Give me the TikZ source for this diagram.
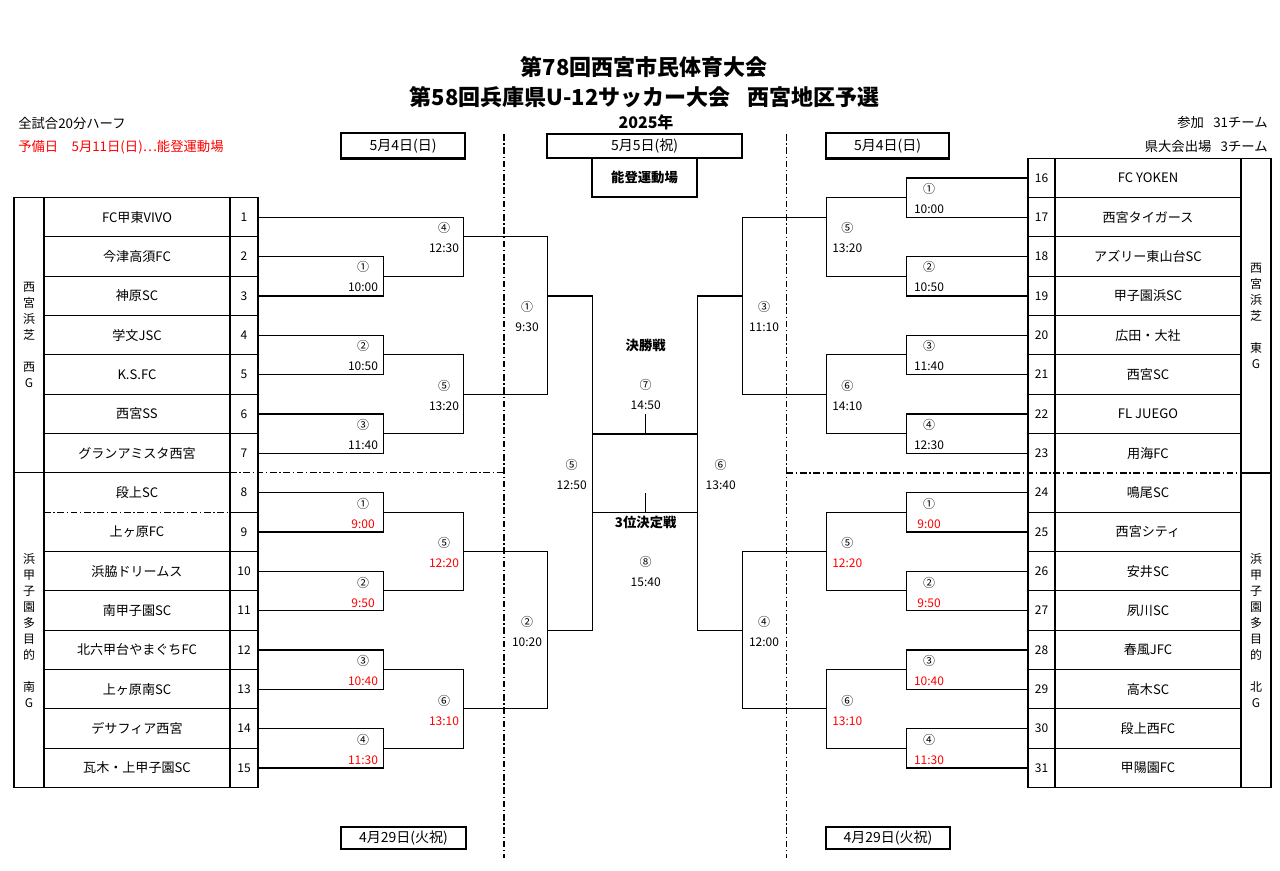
\documentclass[tikz,border=0pt]{standalone}
\usepackage{fontspec}
\setmainfont{Noto Sans CJK JP}
\tikzset{
    cell/.style = {inner sep = 0pt, minimum height = 29.5pt},
    team/.style = {cell, minimum width = 139.5pt, font = \fontsize{9.8}{11}\selectfont},
    seed/.style = {cell, minimum width = 20.5pt, font = \fontsize{9}{10}\selectfont},
    grp/.style = {align = center, inner sep = 0pt, font = \fontsize{9}{12}\selectfont},
    game/.style = {align = center, inner sep = 0pt, font = \fontsize{9}{15}\selectfont},
    note/.style = {inner sep = 0pt, font = \fontsize{10}{11}\selectfont},
    daybox/.style = {draw, line width = 2pt, inner sep = 0pt, font = \fontsize{10.5}{12}\selectfont},
    bracket/.style = {line width = 1pt},
    rule/.style = {line width = 0.9pt},
    divider/.style = {line width = 0.9pt, dash pattern = on 5pt off 2pt on 1pt off 2pt},
}
\begin{document}
\begin{tikzpicture}[x = 0.75pt, y = -0.75pt]
        \fill[white] (0, 0) rectangle (1280, 870);
        \useasboundingbox (0, 0) rectangle (1280, 870);

        % header
        \node[inner sep = 0pt, font = \bfseries\fontsize{16.5}{18}\selectfont] (title1) at (644, 67) {第78回西宮市民体育大会};
        \node[inner sep = 0pt, font = \bfseries\fontsize{16.5}{18}\selectfont] (title2) at (644.5, 97) {第58回兵庫県U-12サッカー大会\hspace{0.75em}西宮地区予選};
        \node[inner sep = 0pt, font = \bfseries\fontsize{12}{14}\selectfont] (year) at (646, 122) {2025年};
        \node[note, anchor = west] (halves) at (18, 123) {全試合20分ハーフ};
        \node[note, anchor = west, text = red] (spare) at (18, 147) {予備日\hspace{1em}5月11日(日)…能登運動場};
        \node[note, anchor = east] (entry) at (1268, 122) {参加\hspace{0.7em}31チーム};
        \node[note, anchor = east] (quota) at (1268, 146) {県大会出場\hspace{0.7em}3チーム};

        \node[draw, line width = 0.9pt, inner sep = 0pt, minimum width = 78.75pt, minimum height = 29.25pt,
            font = \bfseries\fontsize{10}{12}\selectfont] (venue) at (644.5, 177.5) {能登運動場};
        \node[daybox, minimum width = 93pt, minimum height = 19pt] (dayL) at (403, 145.8) {5月4日(日)};
        \node[daybox, fill = white, minimum width = 146.25pt, minimum height = 18pt] (dayC) at (644.5, 146) {5月5日(祝)};
        \node[daybox, minimum width = 92.25pt, minimum height = 19pt] (dayR) at (887.5, 145.8) {5月4日(日)};
        \node[daybox, minimum width = 93.75pt, minimum height = 16.5pt] (dayBL) at (403.5, 838) {4月29日(火祝)};
        \node[daybox, minimum width = 93pt, minimum height = 16.5pt] (dayBR) at (888, 838) {4月29日(火祝)};

        \draw[divider] (504, 134) -- (504, 858) (786.5, 134) -- (786.5, 858);

        % left table
        \foreach \club [count = \i] in {FC甲東VIVO, 今津高須FC, 神原SC, 学文JSC, K.S.FC, 西宮SS, グランアミスタ西宮,
            段上SC, 上ヶ原FC, 浜脇ドリームス, 南甲子園SC, 北六甲台やまぐちFC, 上ヶ原南SC, デサフィア西宮, 瓦木・上甲子園SC}
            \node[team] (lt\i) at (137, {197.5 + (\i - 0.5) * 39.333}) {\club}
                node[seed] (ln\i) at (244, {197.5 + (\i - 0.5) * 39.333}) {\i};
        \draw[rule] (14, 197.5) rectangle (258, 787.5)
            (44, 197.5) -- (44, 787.5) (230, 197.5) -- (230, 787.5);
        \foreach \k in {1, 2, 3, 4, 5, 6, 9, 10, 11, 12, 13, 14}
            \draw[rule] (44, {197.5 + \k * 39.333}) -- (258, {197.5 + \k * 39.333});
        \draw[rule] (14, 472.8) -- (230, 472.8) (230, 512.2) -- (258, 512.2);
        \draw[divider] (230, 472.8) -- (504, 472.8) (44, 512.2) -- (230, 512.2);
        \node[grp] (lgA) at (29, 335.2) {西\\宮\\浜\\芝\\[12pt]西\\G};
        \node[grp] (lgB) at (29, 630.2) {浜\\甲\\子\\園\\多\\目\\的\\[12pt]南\\G};

        % right table
        \foreach \club [count = \j from 16] in {FC YOKEN, 西宮タイガース, アズリー東山台SC, 甲子園浜SC, 広田・大社, 西宮SC, FL JUEGO, 用海FC,
            鳴尾SC, 西宮シティ, 安井SC, 夙川SC, 春風JFC, 高木SC, 段上西FC, 甲陽園FC}
            \node[team] (rt\j) at (1148, {158.2 + (\j - 15.5) * 39.333}) {\club}
                node[seed] (rn\j) at (1041.5, {158.2 + (\j - 15.5) * 39.333}) {\j};
        \draw[rule] (1028, 158.2) rectangle (1271, 787.5)
            (1055, 158.2) -- (1055, 787.5) (1241, 158.2) -- (1241, 787.5);
        \foreach \k in {1, 2, 3, 4, 5, 6, 7, 9, 10, 11, 12, 13, 14, 15}
            \draw[rule] (1028, {158.2 + \k * 39.333}) -- (1241, {158.2 + \k * 39.333});
        \draw[rule] (1241, 472.9) -- (1271, 472.9);
        \draw[divider] (786.5, 472.9) -- (1241, 472.9);
        \node[grp] (rgA) at (1256, 315.6) {西\\宮\\浜\\芝\\[12pt]東\\G};
        \node[grp] (rgB) at (1256, 630.5) {浜\\甲\\子\\園\\多\\目\\的\\[12pt]北\\G};

        % match points
        \coordinate (lm1) at (383.3, 276.2);
        \coordinate (lm2) at (383.3, 354.8);
        \coordinate (lm3) at (383.3, 433.5);
        \coordinate (lm4) at (463.3, 236.8);
        \coordinate (lm5) at (463.3, 394.2);
        \coordinate (lq1) at (547.7, 296);
        \coordinate (lm6) at (383.3, 512.2);
        \coordinate (lm7) at (383.3, 590.8);
        \coordinate (lm8) at (383.3, 669.5);
        \coordinate (lm9) at (383.3, 748.2);
        \coordinate (lm10) at (463.3, 551.5);
        \coordinate (lm11) at (463.3, 708.8);
        \coordinate (lq2) at (547.7, 630.5);
        \coordinate (ls) at (592.7, 434);
        \coordinate (ls3) at (592.7, 512.2);

        \coordinate (rm1) at (906.7, 197.5);
        \coordinate (rm2) at (906.7, 276.2);
        \coordinate (rm3) at (906.7, 354.8);
        \coordinate (rm4) at (906.7, 433.5);
        \coordinate (rm5) at (826.7, 217.2);
        \coordinate (rm6) at (826.7, 394.2);
        \coordinate (rq1) at (742.3, 296);
        \coordinate (rm7) at (906.7, 512.2);
        \coordinate (rm8) at (906.7, 590.8);
        \coordinate (rm9) at (906.7, 669.5);
        \coordinate (rm10) at (906.7, 748.2);
        \coordinate (rm11) at (826.7, 551.5);
        \coordinate (rm12) at (826.7, 708.8);
        \coordinate (rq2) at (742.3, 630.5);
        \coordinate (rs) at (697.3, 434);
        \coordinate (rs3) at (697.3, 512.2);

        \coordinate (fin) at (645.7, 414.3);
        \coordinate (bronze) at (645.7, 493.3);

        % brackets
        \draw[bracket]
            (ln2.east) -| (lm1) |- (ln3.east)
            (ln4.east) -| (lm2) |- (ln5.east)
            (ln6.east) -| (lm3) |- (ln7.east)
            (ln1.east) -| (lm4) |- (lm1)
            (lm2) -| (lm5) |- (lm3)
            (lm4) -| (lq1) |- (lm5)
            (ln8.east) -| (lm6) |- (ln9.east)
            (ln10.east) -| (lm7) |- (ln11.east)
            (ln12.east) -| (lm8) |- (ln13.east)
            (ln14.east) -| (lm9) |- (ln15.east)
            (lm6) -| (lm10) |- (lm7)
            (lm8) -| (lm11) |- (lm9)
            (lm10) -| (lq2) |- (lm11)
            (lq1) -| (ls) |- (lq2)

            (rn16.west) -| (rm1) |- (rn17.west)
            (rn18.west) -| (rm2) |- (rn19.west)
            (rn20.west) -| (rm3) |- (rn21.west)
            (rn22.west) -| (rm4) |- (rn23.west)
            (rm1) -| (rm5) |- (rm2)
            (rm3) -| (rm6) |- (rm4)
            (rm5) -| (rq1) |- (rm6)
            (rn24.west) -| (rm7) |- (rn25.west)
            (rn26.west) -| (rm8) |- (rn27.west)
            (rn28.west) -| (rm9) |- (rn29.west)
            (rn30.west) -| (rm10) |- (rn31.west)
            (rm7) -| (rm11) |- (rm8)
            (rm9) -| (rm12) |- (rm10)
            (rm11) -| (rq2) |- (rm12)
            (rq1) -| (rs) |- (rq2)

            (ls) -- (rs)
            (ls3) -- (rs3)
            (fin) -- (fin |- ls)
            (bronze) -- (bronze |- ls3)
        ;

        % match labels
        \foreach \x/\y/\mk/\tm/\col [count = \g] in {
            363/277/①/10:00/black, 363/355.7/②/10:50/black, 363/434.2/③/11:40/black,
            444/237.7/④/12:30/black, 444/395/⑤/13:20/black, 527/316.7/①/9:30/black,
            363/513.3/①/9:00/red, 363/592/②/9:50/red, 363/670.2/③/10:40/red, 363/749.7/④/11:30/red,
            444/552.5/⑤/12:20/red, 444/710/⑥/13:10/red, 527/631.7/②/10:20/black, 571.7/474.3/⑤/12:50/black,
            929/198.5/①/10:00/black, 929/277/②/10:50/black, 929/355.7/③/11:40/black, 929/434.2/④/12:30/black,
            847.3/237.5/⑤/13:20/black, 847.3/395/⑥/14:10/black, 764/316.7/③/11:10/black,
            929/513.3/①/9:00/red, 929/592/②/9:50/red, 929/670.2/③/10:40/red, 929/749.7/④/11:30/red,
            847.3/552.5/⑤/12:20/red, 847.3/710/⑥/13:10/red, 764/631.7/④/12:00/black, 720.7/474.3/⑥/13:40/black,
            645.7/394/⑦/14:50/black, 645.7/571.7/⑧/15:40/black}
            \node[game] (g\g) at (\x, \y) {\mk\\\textcolor{\col}{\tm}};
        \node[inner sep = 0pt, font = \bfseries\fontsize{10}{12}\selectfont] (final) at (645.7, 345.7) {決勝戦};
        \node[inner sep = 0pt, font = \bfseries\fontsize{10}{12}\selectfont] (third) at (645.7, 522.3) {3位決定戦};
    \end{tikzpicture}
\end{document}
